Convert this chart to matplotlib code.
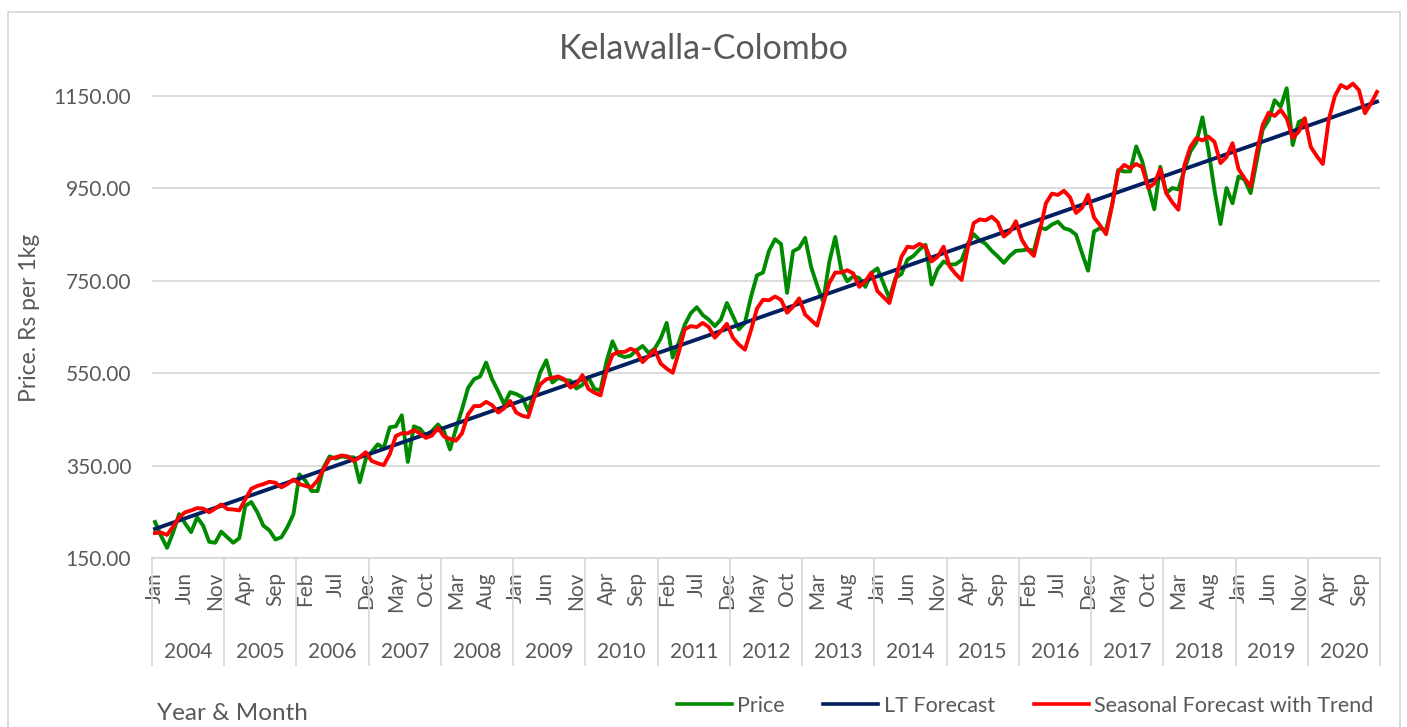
import matplotlib
matplotlib.use("Agg")
import matplotlib.pyplot as plt
from matplotlib.patches import Rectangle

plt.rcParams['font.family'] = ['Lato', 'DejaVu Sans']

years = [str(y) for y in range(2004, 2021)]
month_names = ['Jan', 'Feb', 'Mar', 'Apr', 'May', 'Jun',
               'Jul', 'Aug', 'Sep', 'Oct', 'Nov', 'Dec']

# monthly price, Jan 2004 - Dec 2019
price = [
    228, 198, 172, 205, 245, 225, 206, 238, 220, 185, 183, 207,
    195, 183, 193, 263, 271, 249, 220, 210, 190, 195, 217, 245,
    331, 317, 295, 295, 346, 370, 365, 370, 368, 368, 314, 364,
    380, 396, 388, 433, 435, 459, 358, 435, 430, 414, 425, 439,
    425, 385, 430, 472, 518, 537, 543, 573, 537, 511, 483, 509,
    505, 498, 468, 508, 552, 578, 530, 540, 535, 534, 517, 525,
    541, 516, 513, 575, 619, 590, 585, 588, 600, 609, 594, 603,
    625, 659, 584, 616, 655, 680, 693, 676, 666, 652, 666, 702,
    674, 645, 659, 715, 762, 768, 815, 840, 830, 724, 814, 821,
    843, 780, 740, 705, 790, 845, 774, 749, 760, 756, 737, 767,
    777, 745, 712, 756, 765, 796, 804, 818, 828, 742, 775, 792,
    785, 786, 795, 830, 851, 838, 830, 815, 803, 789, 804, 815,
    816, 818, 815, 865, 862, 872, 878, 864, 860, 850, 810, 772,
    857, 864, 860, 915, 990, 987, 987, 1041, 1009, 954, 905, 997,
    940, 951, 948, 990, 1030, 1050, 1104, 1033, 947, 873, 951, 918,
    976, 969, 940, 1008, 1077, 1098, 1141, 1127, 1167, 1044, 1094, 1100,
]

# seasonal forecast with trend, Jan 2004 - Dec 2020
seasonal = [
    204, 205, 200, 218, 238, 249, 253, 258, 257, 249, 257, 266,
    256, 255, 253, 277, 300, 306, 310, 315, 313, 303, 310, 320,
    310, 306, 303, 318, 342, 365, 368, 372, 370, 360, 368, 379,
    360, 355, 351, 375, 414, 420, 420, 427, 420, 410, 415, 432,
    413, 408, 404, 420, 461, 479, 479, 488, 481, 465, 474, 490,
    465, 458, 455, 497, 526, 537, 540, 543, 537, 519, 526, 546,
    516, 508, 502, 555, 590, 596, 596, 603, 598, 574, 587, 601,
    571, 560, 551, 595, 645, 652, 650, 659, 650, 627, 641, 657,
    627, 612, 601, 643, 690, 709, 708, 716, 709, 681, 694, 712,
    677, 665, 653, 700, 745, 768, 768, 773, 766, 737, 749, 768,
    728, 715, 702, 752, 802, 824, 822, 830, 824, 792, 802, 824,
    781, 765, 752, 820, 875, 883, 881, 889, 877, 846, 856, 879,
    839, 818, 804, 859, 918, 939, 936, 945, 931, 897, 908, 936,
    887, 870, 851, 914, 987, 1001, 994, 1003, 996, 951, 961, 992,
    940, 920, 904, 1000, 1040, 1059, 1054, 1062, 1051, 1005, 1018, 1048,
    992, 972, 954, 1026, 1087, 1114, 1107, 1120, 1102, 1059, 1073, 1102,
    1040, 1020, 1003, 1100, 1150, 1174, 1167, 1177, 1163, 1113, 1134, 1159,
]

# long-term linear forecast: first and last month
lt_x = [0, 203]
lt_forecast = [213, 1138]

months = [m for y in years for m in month_names]
n = len(months)
grey = '#595959'

fig = plt.figure(figsize=(14.07, 7.27), dpi=100)
ax = fig.add_axes([152 / 1407, 1 - 558 / 727, (1380 - 152) / 1407, (558 - 73) / 727])

ax.plot(range(len(price)), price, color='#008a00', lw=2.8, label='Price')
ax.plot(lt_x, lt_forecast, color='#002060', lw=2.8, label='LT Forecast')
ax.plot(range(len(seasonal)), seasonal, color='#ff0000', lw=2.8,
        label='Seasonal Forecast with Trend')

ax.set_xlim(-0.5, n - 0.5)
ax.set_ylim(150, 1200)
ax.set_yticks(range(150, 1200, 200))
ax.set_yticklabels(['%.2f' % v for v in range(150, 1200, 200)], fontsize=15, color=grey)
ax.grid(axis='y', color='#d9d9d9', lw=1.3)
ax.set_axisbelow(True)
ax.tick_params(axis='y', length=0, pad=15)

ticks = list(range(0, n, 5))
ax.set_xticks(ticks)
ax.set_xticklabels([months[i] for i in ticks], rotation=90, fontsize=15, color=grey)
ax.tick_params(axis='x', length=0, pad=10)

for s in ['top', 'right', 'left']:
    ax.spines[s].set_visible(False)
ax.spines['bottom'].set_color('#d9d9d9')
ax.spines['bottom'].set_linewidth(1.3)

trans = ax.get_xaxis_transform()
for k in range(len(years) + 1):
    ax.plot([k * 12 - 0.5, k * 12 - 0.5], [0, -0.22], transform=trans,
            color='#d9d9d9', lw=1.3, clip_on=False)
for k, y in enumerate(years):
    ax.text(k * 12 + 5.5, -0.194, y, transform=trans, ha='center', va='center',
            fontsize=15, color=grey)

fig.text(0.5, 1 - 49 / 727, 'Kelawalla-Colombo', ha='center', va='center',
         fontsize=24.5, color=grey)
fig.text(30 / 1407, 1 - 318 / 727, 'Price. Rs per 1kg', rotation=90,
         ha='center', va='center', fontsize=16.5, color=grey)
fig.text(157 / 1407, 1 - 714 / 727, 'Year & Month', ha='left', va='center',
         fontsize=17.5, color=grey)

handles, labels = ax.get_legend_handles_labels()
leg = fig.legend(handles, labels, loc='center', bbox_to_anchor=(1025 / 1407, 1 - 706 / 727),
                 ncol=3, frameon=False, fontsize=15.5, handlelength=2.55,
                 handletextpad=0.25, columnspacing=1.8, labelcolor=grey)
for line in leg.get_lines():
    line.set_linewidth(2.6)

fig.patches.append(Rectangle((8 / 1407, -0.01), 1392 / 1407, 1 - 12 / 727 + 0.01,
                             transform=fig.transFigure, fill=False,
                             edgecolor='#d9d9d9', lw=1.3))

fig.savefig('out.png', dpi=100)
